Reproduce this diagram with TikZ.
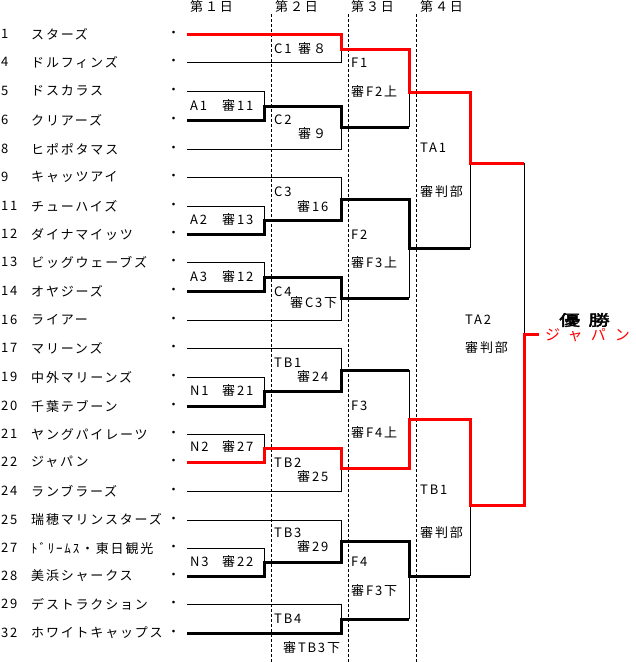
\documentclass[tikz,border=0pt]{standalone}
\usepackage{fontspec}
\setmainfont{Noto Sans CJK JP}[LetterSpace=14]
\newfontfamily\champfont{Noto Sans CJK JP}[FakeBold=2.5,LetterSpace=40]
\newfontfamily\widefont{Noto Sans CJK JP}[LetterSpace=55]
\usepackage{xcolor}
\usepackage{tikz}
\definecolor{ink}{HTML}{000000}
\definecolor{winred}{HTML}{FF0000}
\newcommand{\rowfont}{\fontsize{13}{14}\selectfont}

\begin{document}
\begin{tikzpicture}[x=1pt,y=-1pt,
  lbl/.style={anchor=west,inner sep=0pt,font=\rowfont},
  thinline/.style={draw=ink,line width=0.9pt},
  winline/.style={draw=ink,line width=3pt},
  redline/.style={draw=winred,line width=3pt},
  dayline/.style={draw=ink,line width=0.8pt,dash pattern=on 3pt off 2pt}]
  \useasboundingbox (0,0) rectangle (636,662);
  %% day headers and day borders
  \foreach \x/\d/\k in {190/１/1, 275/２/2, 351/３/3, 420/４/4}
    \node[lbl] (day\k) at (\x,7) {第\d 日};
  \foreach \x in {271,348,416}
    \draw[dayline] (\x,14) -- (\x,662);
  %% entry list
  \foreach \n/\t/\y in {1/スターズ/34, 4/ドルフィンズ/62, 5/ドスカラス/91,
      6/クリアーズ/120, 8/ヒポポタマス/149, 9/キャッツアイ/177,
      11/チューハイズ/206, 12/ダイナマイッツ/234, 13/ビッグウェーブズ/262,
      14/オヤジーズ/291, 16/ライアー/320, 17/マリーンズ/348,
      19/中外マリーンズ/377, 20/千葉テブーン/406, 21/ヤングパイレーツ/434,
      22/ジャパン/462, 24/ランブラーズ/491, 25/瑞穂マリンスターズ/520,
      27/ﾄﾞﾘｰﾑｽ・東日観光/548, 28/美浜シャークス/576,
      29/デストラクション/604, 32/ホワイトキャップス/633}{
    \node[lbl] (no\n) at (1,\y) {\n};
    \node[lbl] (team\n) at (31,\y) {\t};
    \node[lbl] (dot\n) at (167,\y) {・};
    \coordinate (s\n) at (187,\y);
  }
  %% losing sides
  \draw[thinline] (s4) -| (341,49);
  \draw[thinline] (s5) -| (264,106);
  \draw[thinline] (s8) -| (341,127);
  \draw[thinline] (409,92) -- (409,127);
  \draw[thinline] (s9) -| (341,199);
  \draw[thinline] (s11) -| (264,220);
  \draw[thinline] (s13) -| (264,277);
  \draw[thinline] (s16) -| (341,298);
  \draw[thinline] (409,248) -- (409,298);
  \draw[thinline] (470,163) -- (470,248);
  \draw[thinline] (s17) -| (341,370);
  \draw[thinline] (s19) -| (264,391);
  \draw[thinline] (s21) -| (264,448);
  \draw[thinline] (s24) -| (341,468);
  \draw[thinline] (409,370) -- (409,419);
  \draw[thinline] (470,505) -- (470,576);
  \draw[thinline] (s25) -| (341,541);
  \draw[thinline] (s27) -| (264,562);
  \draw[thinline] (s29) -| (341,619);
  \draw[thinline] (409,576) -- (409,619);
  \draw[thinline] (524,163) -- (524,334);
  %% winning sides
  \draw[winline] (s6) -| (264,106) -| (341,127) -- (409,127);
  \draw[winline] (s12) -| (264,220) -| (341,199) -| (409,248) -- (470,248);
  \draw[winline] (s14) -| (264,277) -| (341,298) -- (409,298);
  \draw[winline] (s20) -| (264,391) -| (341,370) -- (409,370);
  \draw[winline] (s28) -| (264,562) -| (341,541) -| (409,576) -- (470,576);
  \draw[winline] (s32) -| (341,619) -- (409,619);
  %% finalists
  \draw[redline] (s1) -| (341,49) -| (409,92) -| (470,163) -- (524,163);
  \draw[redline] (s22) -| (264,448) -| (341,468) -| (409,419) -| (470,505)
    -| (524,334) -- (539,334);
  %% match codes and referees
  \foreach \nm/\code/\xa/\ya/\refr/\xb/\yb in {
      a1/A1/190/106/審11/222/106, a2/A2/190/220/審13/222/220,
      a3/A3/190/277/審12/222/277, n1/N1/190/391/審21/222/391,
      n2/N2/190/447/審27/222/447, n3/N3/190/562/審22/222/562,
      c1/C1/274/49/審８/298/49, c2/C2/274/120/審９/298/134,
      c3/C3/274/192/審16/297/207, c4/C4/274/292/審C3下/290/303,
      tb1/TB1/274/363/審24/297/377, tb2/TB2/274/463/審25/297/477,
      tb3/TB3/274/533/審29/297/547, tb4/TB4/274/619/審TB3下/283/648,
      f1/F1/351/63/審F2上/351/92, f2/F2/351/235/審F3上/351/263,
      f3/F3/351/406/審F4上/351/433, f4/F4/351/562/審F3下/351/591,
      ta1/TA1/420/148/審判部/420/192, tb1x/TB1/420/490/審判部/420/533,
      ta2/TA2/465/320/審判部/465/348}{
    \node[lbl] (\nm) at (\xa,\ya) {\code};
    \node[lbl] (\nm-ref) at (\xb,\yb) {\refr};
  }
  %% champion
  \node[lbl,font=\champfont\fontsize{15}{16}\selectfont] (champ) at (559,320)
    {\scalebox{1.4}[1]{優勝}};
  \node[lbl,font=\widefont\fontsize{15}{16}\selectfont,text=winred] (champteam)
    at (545,335) {ジャパン};
\end{tikzpicture}
\end{document}
